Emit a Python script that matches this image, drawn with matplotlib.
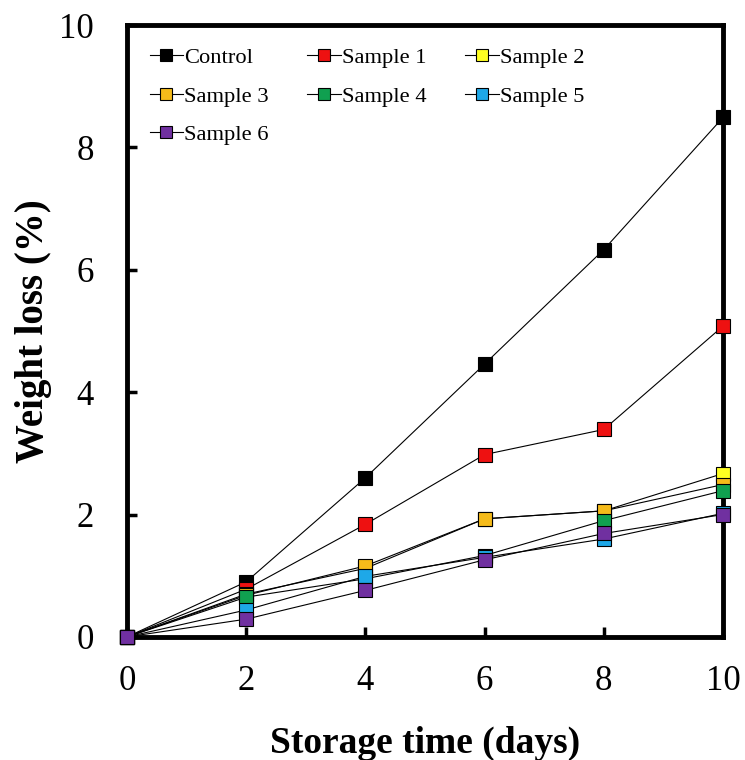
import matplotlib
matplotlib.use("Agg")
import matplotlib.pyplot as plt

days = [0, 2, 4, 6, 8, 10]
series_names = ["Control", "Sample 1", "Sample 2", "Sample 3", "Sample 4", "Sample 5", "Sample 6"]
control = [0, 0.90, 2.60, 4.46, 6.33, 8.49]
sample1 = [0, 0.78, 1.84, 2.98, 3.39, 5.08]
sample2 = [0, 0.70, 1.12, 1.93, 2.06, 2.67]
sample3 = [0, 0.68, 1.16, 1.93, 2.06, 2.49]
sample4 = [0, 0.65, 0.95, 1.33, 1.90, 2.39]
sample5 = [0, 0.44, 0.99, 1.30, 1.60, 2.02]
sample6 = [0, 0.29, 0.76, 1.26, 1.69, 2.00]
colors = ["#000000", "#ee1111", "#ffff22", "#f5bb1a", "#10a050", "#1ea8e8", "#7030a0"]
xticks = [0, 2, 4, 6, 8, 10]
yticks = [0, 2, 4, 6, 8, 10]

plt.rcParams['font.family'] = ['Liberation Serif', 'DejaVu Serif']

fig = plt.figure(figsize=(7.45, 7.60), dpi=100)
ax = fig.add_axes([0.1705, 0.162, 0.800, 0.805])

all_series = [control, sample1, sample2, sample3, sample4, sample5, sample6]
handles = []
for name, vals, c in zip(series_names, all_series, colors):
    h, = ax.plot(days, vals, color="black", lw=0.8, marker="s", markersize=10.5,
                 markerfacecolor=c, markeredgecolor="black", markeredgewidth=0.8,
                 label=name, clip_on=False, zorder=3)
    handles.append(h)

ax.set_xlim(0, 10)
ax.set_ylim(0, 10)
ax.set_xticks(xticks)
ax.set_yticks(yticks)
ax.tick_params(direction="in", length=7, width=2.5, labelsize=25)
ax.tick_params(axis="x", pad=20)
ax.tick_params(axis="y", pad=24)
for s in ax.spines.values():
    s.set_linewidth(3.5)

ax.set_xlabel("Storage time (days)", fontsize=27, fontweight="bold", labelpad=20)
ax.set_ylabel("Weight loss (%)", fontsize=28, fontweight="bold", labelpad=5)

# row-wise legend order for 3 columns
order = [0, 3, 6, 1, 4, 2, 5]
leg = ax.legend([handles[i] for i in order], [series_names[i] for i in order],
                loc="upper left", ncol=3, frameon=False, fontsize=16.2,
                handlelength=1.5, handletextpad=0.05, columnspacing=1.7,
                labelspacing=0.78, borderaxespad=0.6, markerscale=0.85)

fig.savefig("out.png", dpi=100)
